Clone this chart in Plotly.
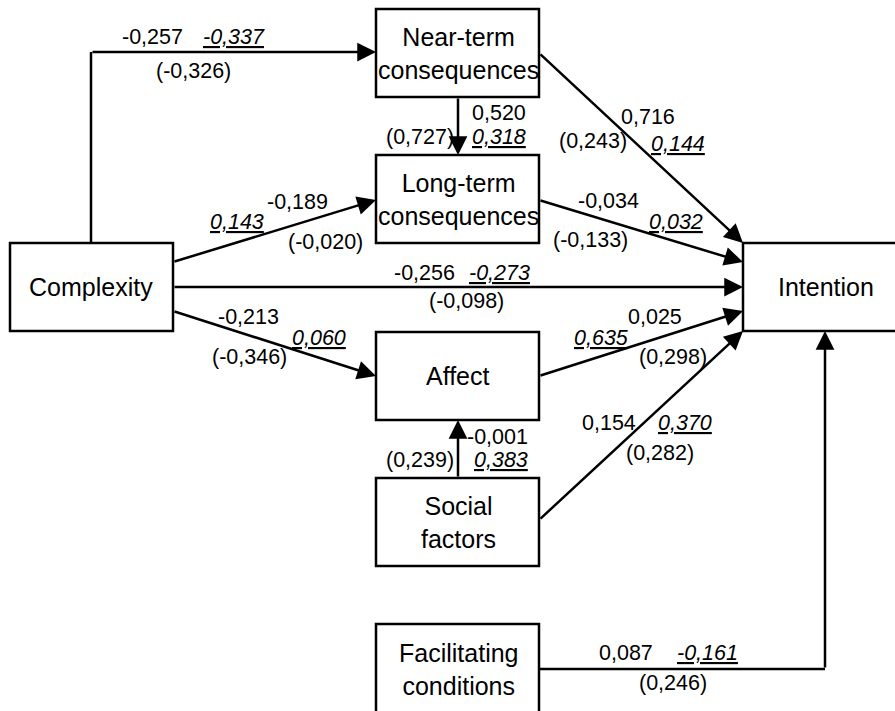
import plotly.graph_objects as go

# ---------------- data ----------------
node_labels = ["Near-term<br>consequences", "Long-term<br>consequences", "Complexity",
               "Intention", "Affect", "Social<br>factors", "Facilitating<br>conditions"]

path_names = ["Complexity->Near-term", "Near-term->Long-term", "Near-term->Intention",
              "Long-term->Intention", "Complexity->Long-term", "Complexity->Intention",
              "Complexity->Affect", "Affect->Intention", "Social->Intention",
              "Social->Affect", "Facilitating->Intention"]
coef_plain = ["-0,257", "0,520", "0,716", "-0,034", "-0,189", "-0,256",
              "-0,213", "0,025", "0,154", "-0,001", "0,087"]
coef_italic = ["-0,337", "0,318", "0,144", "0,032", "0,143", "-0,273",
               "0,060", "0,635", "0,370", "0,383", "-0,161"]
coef_paren = ["(-0,326)", "(0,727)", "(0,243)", "(-0,133)", "(-0,020)", "(-0,098)",
              "(-0,346)", "(0,298)", "(0,282)", "(0,239)", "(0,246)"]

# ---------------- layout (pixel coordinates) ----------------
W, H = 895, 711
box_rects = [(376, 9, 539, 97), (376, 155, 539, 243), (10, 243, 173, 331),
             (743, 243, 915, 331), (376, 332, 539, 420), (376, 478, 539, 566),
             (376, 624, 539, 720)]
box_text_pos = [(458, 53), (458, 199), (91, 287), (826, 287), (458, 376), (458, 522), (459, 669)]

# arrow segments: (tail x, tail y, head x, head y)
arrow_segs = [(91, 52, 376, 52), (458, 97, 458, 155), (539, 53, 743, 243),
              (539, 200, 743, 262), (173, 262, 376, 200), (173, 287, 743, 287),
              (173, 311, 376, 376), (539, 376, 743, 311), (539, 520, 743, 331),
              (458, 478, 458, 420), (825, 669, 825, 331)]
# plain connector lines (no arrowhead)
plain_lines = [(91, 243, 91, 52), (539, 669, 825, 669)]

# label positions (x, y) for plain, italic and parenthesised values
pos_plain = [(152, 37), (499, 113), (648, 117), (608, 201), (297, 202), (424, 273),
             (248, 317), (655, 317), (609, 423), (497, 437), (626, 653)]
pos_italic = [(234, 37), (499, 137), (678, 144), (676, 222), (237, 222), (499, 273),
              (319, 338), (601, 338), (685, 423), (501, 460), (707, 653)]
pos_paren = [(193, 71), (420, 137), (593, 141), (590, 240), (325, 242), (466, 301),
             (249, 357), (673, 357), (660, 453), (420, 460), (673, 683)]

FONT = "Liberation Sans, Arial, sans-serif"
LW = 2.5

fig = go.Figure()
shapes = []
annotations = []

for (x0, y0, x1, y1) in plain_lines:
    shapes.append(dict(type="line", x0=x0, y0=y0, x1=x1, y1=y1, xref="x", yref="y",
                       line=dict(color="black", width=LW)))

for (tx, ty, hx, hy) in arrow_segs:
    annotations.append(dict(x=hx, y=hy, ax=tx, ay=ty, xref="x", yref="y",
                            axref="x", ayref="y", text="", showarrow=True,
                            arrowhead=2, arrowsize=1.5, arrowwidth=LW,
                            arrowcolor="black", standoff=0, startstandoff=0))

for (x0, y0, x1, y1) in box_rects:
    shapes.append(dict(type="rect", x0=x0, y0=y0, x1=x1, y1=y1, xref="x", yref="y",
                       line=dict(color="black", width=LW), fillcolor="white", layer="above"))

for lab, (x, y) in zip(node_labels, box_text_pos):
    annotations.append(dict(x=x, y=y, xref="x", yref="y", text=lab, showarrow=False,
                            font=dict(family=FONT, size=25, color="black"),
                            xanchor="center", yanchor="middle"))

for i in range(len(path_names)):
    for txt, (x, y) in ((coef_plain[i], pos_plain[i]),
                        ("<i><u>" + coef_italic[i] + "</u></i>", pos_italic[i]),
                        (coef_paren[i], pos_paren[i])):
        annotations.append(dict(x=x, y=y, xref="x", yref="y", text=txt, showarrow=False,
                                font=dict(family=FONT, size=21.5, color="black"),
                                xanchor="center", yanchor="middle"))

fig.update_layout(
    width=W, height=H,
    margin=dict(l=0, r=0, t=0, b=0),
    paper_bgcolor="white", plot_bgcolor="white",
    xaxis=dict(range=[0, W], visible=False, fixedrange=True),
    yaxis=dict(range=[H, 0], visible=False, fixedrange=True),
    shapes=shapes, annotations=annotations, showlegend=False,
)

fig.write_html("out.html", config={"displayModeBar": False},
               post_script="document.body.style.margin='0px';document.body.style.overflow='hidden';")
